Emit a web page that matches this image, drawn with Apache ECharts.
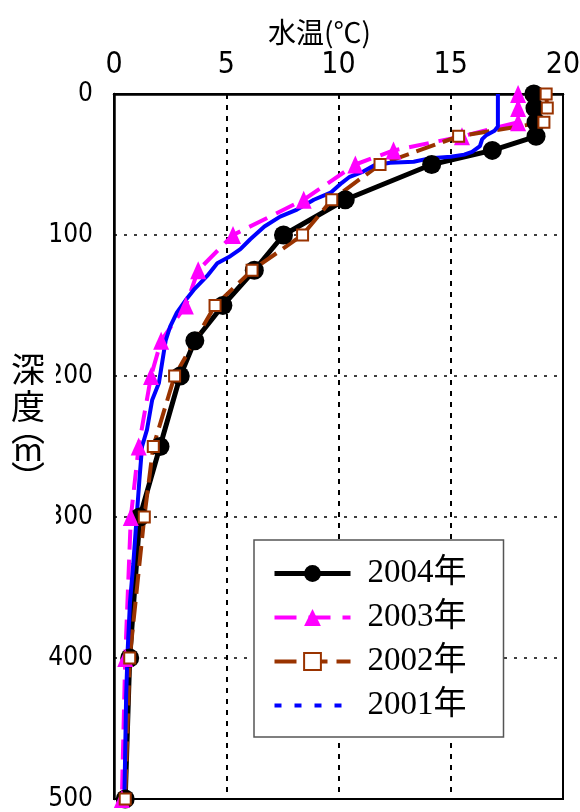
<!DOCTYPE html>
<html>
<head>
<meta charset="utf-8">
<script src="https://cdn.jsdelivr.net/npm/echarts@6/dist/echarts.min.js"></script>
<style>
html,body{margin:0;padding:0;background:#fff;}
#chart{width:580px;height:812px;}
</style>
</head>
<body>
<div id="chart"></div>
<script>
// ---- data (temperature in °C, depth in m) ----
const seriesNames = ['2004年', '2003年', '2002年', '2001年'];
const tempTicks = [0, 5, 10, 15, 20];
const depthTicks = [0, 100, 200, 300, 400, 500];

const depth2004 = [0, 10, 20, 30, 40, 50, 75, 100, 125, 150, 175, 200, 250, 300, 400, 500];
const temp2004  = [18.7, 18.75, 18.8, 18.8, 16.85, 14.15, 10.3, 7.55, 6.25, 4.85, 3.6, 2.95, 2.05, 1.15, 0.7, 0.5];

const depth2003 = [0, 10, 20, 30, 40, 50, 75, 100, 125, 150, 175, 200, 250, 300, 400, 500];
const temp2003  = [18.0, 18.0, 18.0, 15.5, 12.45, 10.75, 8.45, 5.3, 3.75, 3.2, 2.1, 1.65, 1.1, 0.75, 0.5, 0.35];

const depth2002 = [0, 10, 20, 30, 50, 75, 100, 125, 150, 200, 250, 300, 400, 500];
const temp2002  = [19.25, 19.3, 19.15, 15.35, 11.85, 9.7, 8.4, 6.15, 4.5, 2.7, 1.75, 1.35, 0.7, 0.5];

const depth2001 = [0, 23, 26, 29, 32, 37, 41, 43, 44.5, 45.5, 48, 48.8, 50.5, 55, 58.7, 63, 70, 75, 82, 87,
                   94, 103, 110, 115, 120, 129, 139, 145, 155, 165, 175, 190, 205, 217, 238, 250, 274, 300, 333, 361,
                   394, 427, 474, 500];
const temp2001  = [17.1, 17.1, 16.95, 16.6, 16.4, 16.3, 15.95, 15.6, 15.0, 14.1, 13.35, 12.3, 11.6, 11.1, 10.5, 10.15, 9.65, 8.9, 8.15, 7.4,
                   6.7, 6.07, 5.63, 5.18, 4.6, 4.15, 3.55, 3.25, 2.8, 2.5, 2.3, 2.15, 2.0, 1.7, 1.47, 1.25, 1.13, 1.01, 0.86, 0.71,
                   0.61, 0.54, 0.49, 0.46];

function pairs(t, d) { return t.map((v, i) => [v, d[i]]); }

const tickFont = "'Liberation Sans Narrow','DejaVu Sans Condensed','Liberation Sans',Arial,sans-serif";
const cjkFont = "'Noto Sans CJK JP','Noto Sans',sans-serif";

const chart = echarts.init(document.getElementById('chart'), null, {renderer: 'canvas'});
chart.setOption({
  animation: false,
  backgroundColor: '#fff',
  title: {
    text: '水温(℃)',
    left: 268, top: 18,
    padding: 0,
    textStyle: {fontFamily: cjkFont, fontSize: 28, fontWeight: 'normal', color: '#000'}
  },
  grid: {
    left: 114, right: 17, top: 94, bottom: 13,
    show: true, borderColor: '#000', borderWidth: 2,
    outerBoundsMode: 'none'
  },
  xAxis: {
    type: 'value', position: 'top',
    min: tempTicks[0], max: tempTicks[tempTicks.length - 1], interval: tempTicks[1] - tempTicks[0],
    axisLine: {show: true, lineStyle: {color: '#000', width: 2.5}},
    axisTick: {show: false},
    axisLabel: {margin: 14, color: '#000', fontSize: 30, fontFamily: tickFont},
    splitLine: {show: true, lineStyle: {color: '#000', width: 2, type: [5, 6]}}
  },
  yAxis: {
    type: 'value', inverse: true,
    min: depthTicks[0], max: depthTicks[depthTicks.length - 1], interval: depthTicks[1] - depthTicks[0],
    axisLine: {show: true, lineStyle: {color: '#000', width: 2.5}},
    axisTick: {show: false},
    axisLabel: {margin: 21, color: '#000', fontSize: 26, fontFamily: tickFont, padding: [4, 0, 0, 0]},
    splitLine: {show: true, lineStyle: {color: '#000', width: 1.5, type: [3, 7]}}
  },
  legend: {
    orient: 'vertical',
    left: 254, top: 540,
    padding: [16, 37, 14, 18],
    itemGap: 9,
    itemWidth: 76, itemHeight: 21,
    backgroundColor: '#fff',
    borderColor: '#555', borderWidth: 1.5, borderRadius: 0,
    textStyle: {fontFamily: "'Liberation Serif','Noto Sans CJK JP',serif", fontSize: 33, color: '#000', lineHeight: 35, padding: [0, 0, 0, 12]},
    data: [
      {name: seriesNames[0], lineStyle: {width: 5}},
      {name: seriesNames[1], lineStyle: {width: 4, type: [22, 12]}},
      {name: seriesNames[2], lineStyle: {width: 4, type: [22, 9]}},
      {name: seriesNames[3], lineStyle: {type: [7, 13], width: 4}, itemStyle: {color: 'rgba(0,0,0,0)', borderWidth: 0}}
    ]
  },
  series: [
    {
      name: seriesNames[0], type: 'line', data: pairs(temp2004, depth2004),
      color: '#000',
      lineStyle: {color: '#000', width: 5},
      symbol: 'circle', symbolSize: 19,
      itemStyle: {color: '#000'}
    },
    {
      name: seriesNames[1], type: 'line', data: pairs(temp2003, depth2003),
      color: '#FF00FF',
      lineStyle: {color: '#FF00FF', width: 4, type: [20, 10]},
      symbol: 'triangle', symbolSize: [16, 18],
      itemStyle: {color: '#FF00FF'}
    },
    {
      name: seriesNames[2], type: 'line', data: pairs(temp2002, depth2002),
      color: '#993300',
      lineStyle: {color: '#993300', width: 4, type: [20, 8]},
      symbol: 'rect', symbolSize: 11,
      itemStyle: {color: '#fff', borderColor: '#993300', borderWidth: 2}
    },
    {
      name: seriesNames[3], type: 'line', data: pairs(temp2001, depth2001),
      color: '#0000FF',
      lineStyle: {color: '#0000FF', width: 4},
      symbol: 'none'
    }
  ],
  graphic: [
    {type: 'rect', z: 100, shape: {x: 0, y: 350, width: 56, height: 180}, style: {fill: '#fff'}},
    {type: 'text', z: 101, x: 28, y: 369, style: {text: '深', fontSize: 34, fontFamily: cjkFont, fill: '#000', align: 'center', verticalAlign: 'middle'}},
    {type: 'text', z: 101, x: 28, y: 406, style: {text: '度', fontSize: 34, fontFamily: cjkFont, fill: '#000', align: 'center', verticalAlign: 'middle'}},
    {type: 'text', z: 101, x: 28, y: 428, style: {text: '︵', fontSize: 34, fontFamily: cjkFont, fill: '#000', align: 'center', verticalAlign: 'middle'}},
    {type: 'text', z: 101, x: 28, y: 449, style: {text: 'm', fontSize: 32, fontFamily: cjkFont, fill: '#000', align: 'center', verticalAlign: 'middle'}},
    {type: 'text', z: 101, x: 28, y: 478, style: {text: '︶', fontSize: 34, fontFamily: cjkFont, fill: '#000', align: 'center', verticalAlign: 'middle'}}
  ]
});
</script>
</body>
</html>
